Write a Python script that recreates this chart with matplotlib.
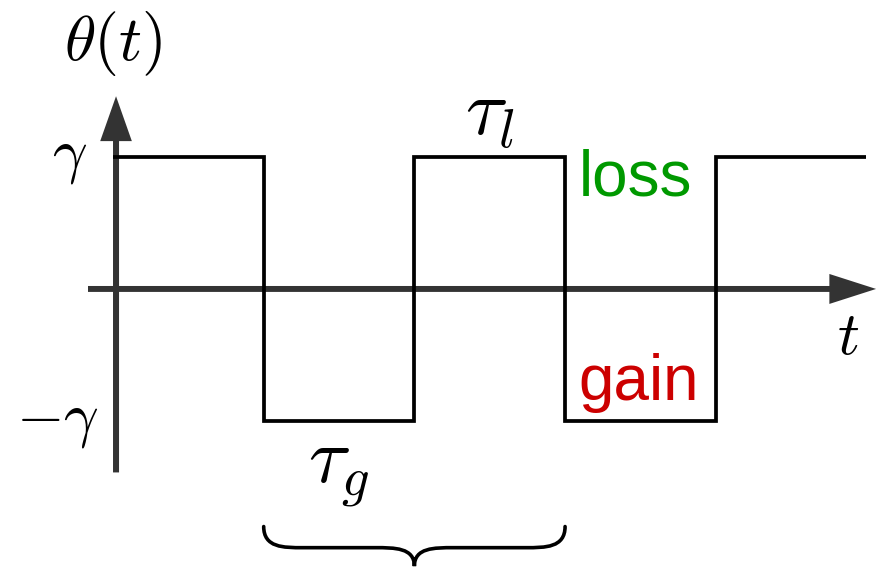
import matplotlib.pyplot as plt
from matplotlib.path import Path
from matplotlib.patches import PathPatch
import numpy as np

plt.rcParams["mathtext.fontset"] = "cm"

# square wave theta(t): switching times and levels (in units of gamma)
t_edges = [0, 1, 2, 3, 4, 5]
levels = [1, -1, 1, -1, 1]
gamma = 1.0

axis_color = "#333333"

fig = plt.figure(figsize=(8.8, 5.68), dpi=100)
ax = fig.add_axes([0, 0, 1, 1])
ax.set_xlim(-0.75, 5.09)
ax.set_ylim(-2.114, 2.189)
ax.axis("off")

# axes with arrowheads
ax.arrow(-0.166, 0.0, 5.23, 0.0, width=0.045, head_width=0.227, head_length=0.31,
         length_includes_head=True, color=axis_color, lw=0, zorder=3)
ax.arrow(0.02, -1.39, 0.0, 2.85, width=0.04, head_width=0.21, head_length=0.34,
         length_includes_head=True, color=axis_color, lw=0, zorder=3)

# the wave itself
ax.stairs(np.array(levels) * gamma, t_edges, baseline=None, color="black",
          lw=2.7, joinstyle="miter", zorder=4)

# labels
ax.text(-0.0, 1.86, r"$\theta(t)$", fontsize=46, ha="center", va="center")
ax.text(-0.29, gamma, r"$\gamma$", fontsize=44, ha="center", va="center")
ax.text(-0.37, -gamma, r"$-\gamma$", fontsize=44, ha="center", va="center")
ax.text(4.88, -0.37, r"$t$", fontsize=44, ha="center", va="center")
ax.text(2.5, 1.33, r"$\tau_l$", fontsize=56, ha="center", va="center")
ax.text(1.5, -1.38, r"$\tau_g$", fontsize=56, ha="center", va="center")
ax.text(3.09, 0.84, "loss", fontsize=46, color="#009900", family="Liberation Sans",
        ha="left", va="center")
ax.text(3.09, -0.71, "gain", fontsize=46, color="#cc0000", family="Liberation Sans",
        ha="left", va="center")

# curly brace marking one period, from t=1 to t=3
b0, b1 = t_edges[1], t_edges[3]
bc = 0.5 * (b0 + b1)
y_top, y_mid, y_tip = -1.80, -1.96, -2.10
r = 0.13
verts = [
    (b0, y_top), (b0, y_mid), (b0 + r, y_mid), (b0 + 2 * r, y_mid),
    (bc - 2 * r, y_mid),
    (bc - r, y_mid), (bc, y_mid), (bc, y_tip),
    (bc, y_mid), (bc + r, y_mid), (bc + 2 * r, y_mid),
    (b1 - 2 * r, y_mid),
    (b1 - r, y_mid), (b1, y_mid), (b1, y_top),
]
codes = [Path.MOVETO, Path.CURVE4, Path.CURVE4, Path.CURVE4, Path.LINETO,
         Path.CURVE4, Path.CURVE4, Path.CURVE4,
         Path.CURVE4, Path.CURVE4, Path.CURVE4, Path.LINETO,
         Path.CURVE4, Path.CURVE4, Path.CURVE4]
ax.add_patch(PathPatch(Path(verts, codes), fill=False, lw=2.6, color="black",
                       capstyle="round"))

fig.savefig("out.png", dpi=100)
